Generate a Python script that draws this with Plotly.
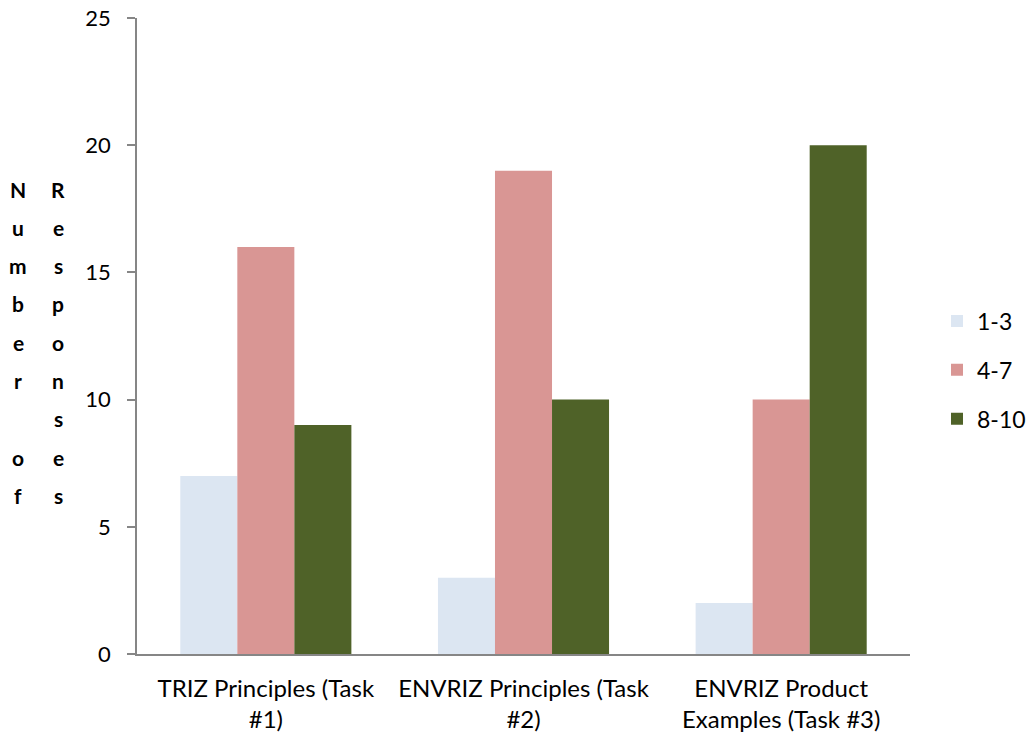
import plotly.graph_objects as go

categories = ["TRIZ Principles (Task<br>#1)", "ENVRIZ Principles (Task<br>#2)", "ENVRIZ Product<br>Examples (Task #3)"]
series_names = ["1-3", "4-7", "8-10"]
vals_1_3 = [7, 3, 2]
vals_4_7 = [16, 19, 10]
vals_8_10 = [9, 10, 20]
colors = ["#DCE6F2", "#D99694", "#4F6228"]
title_left = "Number of"
title_right = "Responses"

font_family = "Lato, 'Open Sans', sans-serif"

W, H = 1029, 740
ML, MR, MT, MB = 137, 119, 18, 86
plot_w = W - ML - MR
plot_h = H - MT - MB

fig = go.Figure()
for i, (name, vals) in enumerate(zip(series_names, [vals_1_3, vals_4_7, vals_8_10])):
    fig.add_trace(go.Bar(
        x=categories, y=vals, name=name, legendgroup=name,
        marker=dict(color=colors[i], line=dict(width=0)),
    ))

# stacked-letter axis title: one character per row, two columns
row_top_px, row_step_px = 189, 38.3
for col_x_px, word in [(18, title_left), (58, title_right)]:
    for r, ch in enumerate(word):
        if ch == " ":
            continue
        y_px = row_top_px + r * row_step_px
        fig.add_annotation(
            xref="paper", yref="paper",
            x=(col_x_px - ML) / plot_w, y=(H - MB - y_px) / plot_h,
            text=ch, showarrow=False, xanchor="center", yanchor="middle",
            font=dict(family=font_family, size=21, color="#000000", weight="bold"),
        )

fig.update_layout(
    width=W, height=H,
    margin=dict(l=ML, r=MR, t=MT, b=MB, autoexpand=False),
    paper_bgcolor="white", plot_bgcolor="white",
    barmode="group", bargap=0.336, bargroupgap=0,
    font=dict(family=font_family, size=22, color="#000000"),
    legend=dict(
        x=(937 - ML) / plot_w, y=(H - MB - 370) / plot_h,
        xanchor="left", yanchor="middle",
        font=dict(size=23), tracegroupgap=16, traceorder="grouped",
        itemwidth=30,
    ),
)
fig.update_xaxes(
    showline=True, linecolor="#868686", linewidth=1.5,
    ticks="", showgrid=False, tickfont=dict(size=24),
    ticklabelstandoff=12, automargin=False,
)
fig.update_yaxes(
    range=[0, 25], dtick=5, showline=True, linecolor="#868686", linewidth=1.5,
    ticks="outside", ticklen=8, tickcolor="#868686", tickwidth=1.5,
    showgrid=False, zeroline=False, tickfont=dict(size=22),
    ticklabelstandoff=12, automargin=False,
)

fig.write_html("out.html")
